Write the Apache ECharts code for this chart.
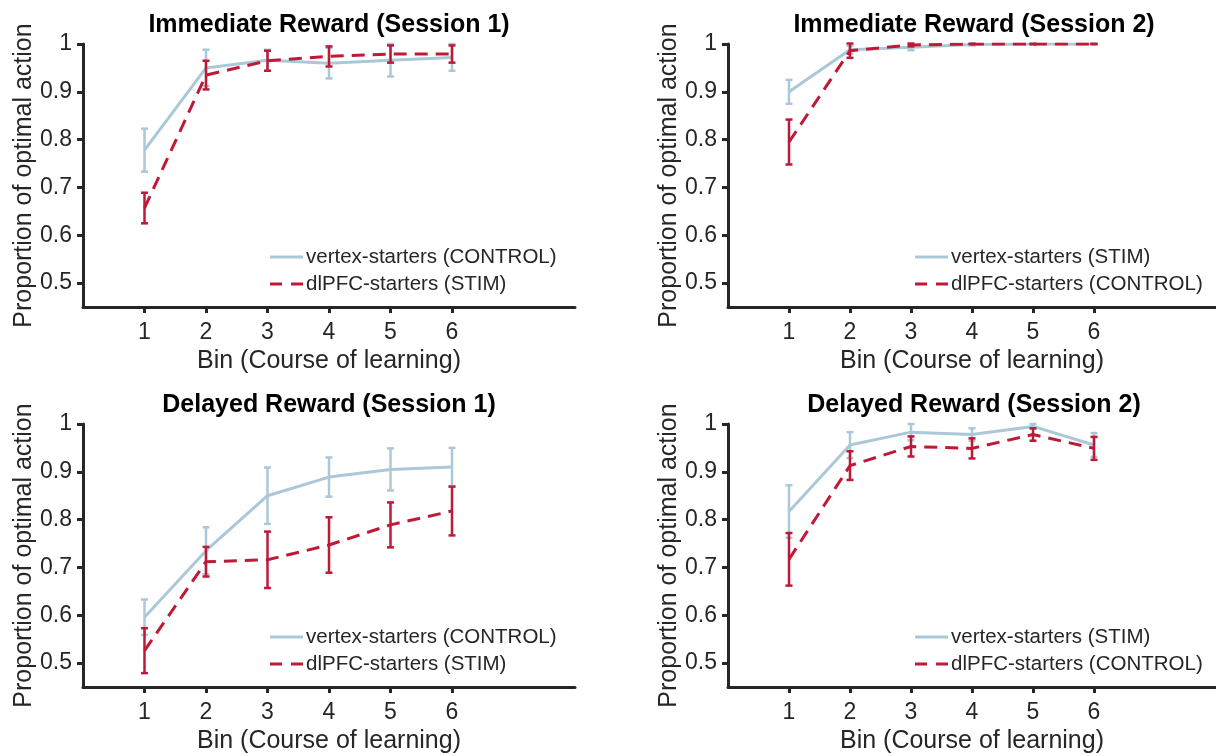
<!DOCTYPE html>
<html>
<head>
<meta charset="utf-8">
<script src="https://cdn.jsdelivr.net/npm/echarts@6/dist/echarts.min.js"></script>
<style>
html,body{margin:0;padding:0;background:#fff;}
#chart{width:1216px;height:756px;}
</style>
</head>
<body>
<div id="chart"></div>
<script>
// ---- data ----
const bins = [1, 2, 3, 4, 5, 6];
const xTicks = [1, 2, 3, 4, 5, 6];
const yTicks = [0.5, 0.6, 0.7, 0.8, 0.9, 1];

const panelTitles = [
  'Immediate Reward (Session 1)',
  'Immediate Reward (Session 2)',
  'Delayed Reward (Session 1)',
  'Delayed Reward (Session 2)'
];
const blueNames = ['vertex-starters (CONTROL)', 'vertex-starters (STIM)', 'vertex-starters (CONTROL)', 'vertex-starters (STIM)'];
const redNames = ['dlPFC-starters (STIM)', 'dlPFC-starters (CONTROL)', 'dlPFC-starters (STIM)', 'dlPFC-starters (CONTROL)'];

// Immediate reward, session 1
const irS1BlueMean = [0.778, 0.950, 0.966, 0.960, 0.966, 0.972];
const irS1BlueErr  = [0.045, 0.038, 0.022, 0.032, 0.034, 0.028];
const irS1RedMean  = [0.657, 0.935, 0.965, 0.974, 0.979, 0.979];
const irS1RedErr   = [0.032, 0.030, 0.021, 0.021, 0.018, 0.018];
// Immediate reward, session 2
const irS2BlueMean = [0.900, 0.988, 0.993, 0.999, 1.000, 1.000];
const irS2BlueErr  = [0.025, 0.008, 0.006, 0.002, 0.000, 0.000];
const irS2RedMean  = [0.795, 0.986, 0.998, 1.000, 1.000, 1.000];
const irS2RedErr   = [0.047, 0.015, 0.003, 0.000, 0.000, 0.000];
// Delayed reward, session 1
const drS1BlueMean = [0.596, 0.735, 0.850, 0.889, 0.905, 0.910];
const drS1BlueErr  = [0.037, 0.049, 0.059, 0.041, 0.044, 0.040];
const drS1RedMean  = [0.526, 0.712, 0.716, 0.747, 0.789, 0.818];
const drS1RedErr   = [0.047, 0.031, 0.059, 0.058, 0.047, 0.051];
// Delayed reward, session 2
const drS2BlueMean = [0.817, 0.956, 0.983, 0.978, 0.995, 0.956];
const drS2BlueErr  = [0.055, 0.027, 0.017, 0.013, 0.005, 0.025];
const drS2RedMean  = [0.717, 0.913, 0.953, 0.949, 0.978, 0.949];
const drS2RedErr   = [0.055, 0.030, 0.021, 0.021, 0.013, 0.024];

const blueMeans = [irS1BlueMean, irS2BlueMean, drS1BlueMean, drS2BlueMean];
const blueErrs  = [irS1BlueErr, irS2BlueErr, drS1BlueErr, drS2BlueErr];
const redMeans  = [irS1RedMean, irS2RedMean, drS1RedMean, drS2RedMean];
const redErrs   = [irS1RedErr, irS2RedErr, drS1RedErr, drS2RedErr];

// ---- style / layout ----
const BLUE = '#ABC8D8';
const RED = '#BE1A38';
const AXIS = '#262626';
const FONT = '"Liberation Sans", Arial, Helvetica, sans-serif';
const DASH = [13, 8];
const panels = [
  {left: 83, top: 44},
  {left: 728, top: 44},
  {left: 83, top: 424},
  {left: 728, top: 424}
];
const GW = 492, GH = 263;

const chart = echarts.init(document.getElementById('chart'), null, {renderer: 'canvas'});

function errRender(color) {
  return function (params, api) {
    const x = api.value(0);
    const lo = api.coord([x, api.value(1)]);
    const hi = api.coord([x, api.value(2)]);
    const cap = 3.5;
    const style = {stroke: color, lineWidth: 2.5};
    return {
      type: 'group',
      children: [
        {type: 'line', shape: {x1: lo[0], y1: lo[1], x2: hi[0], y2: hi[1]}, style: style},
        {type: 'line', shape: {x1: lo[0] - cap, y1: lo[1], x2: lo[0] + cap, y2: lo[1]}, style: style},
        {type: 'line', shape: {x1: hi[0] - cap, y1: hi[1], x2: hi[0] + cap, y2: hi[1]}, style: style}
      ]
    };
  };
}

const grids = [], xAxes = [], yAxes = [], series = [], graphics = [];
panels.forEach((p, i) => {
  grids.push({left: p.left, top: p.top, width: GW, height: GH, containLabel: false});
  xAxes.push({
    type: 'value', gridIndex: i, min: 0, max: 8, interval: 1,
    name: 'Bin (Course of learning)', nameLocation: 'middle', nameGap: 42,
    nameTextStyle: {fontFamily: FONT, fontSize: 25, color: AXIS},
    axisLine: {show: true, onZero: false, lineStyle: {color: AXIS, width: 3}},
    axisTick: {show: true, inside: false, length: 6, customValues: xTicks, lineStyle: {color: AXIS, width: 3}},
    axisLabel: {show: true, margin: 14, fontFamily: FONT, fontSize: 23, color: AXIS, customValues: xTicks},
    splitLine: {show: false}
  });
  yAxes.push({
    type: 'value', gridIndex: i, min: 0.45, max: 1,
    name: 'Proportion of optimal action', nameLocation: 'middle', nameGap: 46, nameRotate: 90,
    nameTextStyle: {fontFamily: FONT, fontSize: 25, color: AXIS},
    axisLine: {show: true, onZero: false, lineStyle: {color: AXIS, width: 3}},
    axisTick: {show: true, inside: false, length: 6, customValues: yTicks, lineStyle: {color: AXIS, width: 3}},
    axisLabel: {show: true, margin: 11, fontFamily: FONT, fontSize: 23, color: AXIS, customValues: yTicks,
      formatter: v => String(Math.round(v * 10) / 10)},
    splitLine: {show: false}
  });
  const bm = blueMeans[i], be = blueErrs[i], rm = redMeans[i], re = redErrs[i];
  series.push({
    name: blueNames[i], type: 'line', xAxisIndex: i, yAxisIndex: i,
    data: bins.map((b, k) => [b, bm[k]]), symbol: 'none', showSymbol: false,
    lineStyle: {color: BLUE, width: 3}, itemStyle: {color: BLUE}, z: 2, animation: false
  });
  series.push({
    name: 'blueErr' + i, type: 'custom', xAxisIndex: i, yAxisIndex: i,
    data: bins.map((b, k) => [b, bm[k] - be[k], bm[k] + be[k]]),
    renderItem: errRender(BLUE), z: 3, animation: false, silent: true
  });
  series.push({
    name: redNames[i], type: 'line', xAxisIndex: i, yAxisIndex: i,
    data: bins.map((b, k) => [b, rm[k]]), symbol: 'none', showSymbol: false,
    lineStyle: {color: RED, width: 3, type: DASH}, itemStyle: {color: RED}, z: 4, animation: false
  });
  series.push({
    name: 'redErr' + i, type: 'custom', xAxisIndex: i, yAxisIndex: i,
    data: bins.map((b, k) => [b, rm[k] - re[k], rm[k] + re[k]]),
    renderItem: errRender(RED), z: 5, animation: false, silent: true
  });
  // legend (drawn as graphics)
  const lx = p.left + 187, ly1 = p.top + 213, ly2 = p.top + 240;
  graphics.push({type: 'line', shape: {x1: lx, y1: ly1, x2: lx + 33, y2: ly1},
    style: {stroke: BLUE, lineWidth: 3}});
  graphics.push({type: 'line', shape: {x1: lx, y1: ly2, x2: lx + 33, y2: ly2},
    style: {stroke: RED, lineWidth: 3, lineDash: [12, 9]}});
  graphics.push({type: 'text', x: lx + 36, y: ly1,
    style: {text: blueNames[i], textAlign: 'left', textVerticalAlign: 'middle',
      font: '20.5px ' + FONT, fill: AXIS}});
  graphics.push({type: 'text', x: lx + 36, y: ly2,
    style: {text: redNames[i], textAlign: 'left', textVerticalAlign: 'middle',
      font: '20.5px ' + FONT, fill: AXIS}});
  // title
  graphics.push({
    type: 'text', x: p.left + GW / 2, y: p.top - 19,
    style: {text: panelTitles[i], textAlign: 'center', textVerticalAlign: 'middle',
      font: 'bold 25px ' + FONT, fill: '#000'}
  });
});

chart.setOption({
  backgroundColor: '#fff',
  animation: false,
  grid: grids, xAxis: xAxes, yAxis: yAxes, series: series,
  graphic: graphics
});
</script>
</body>
</html>
